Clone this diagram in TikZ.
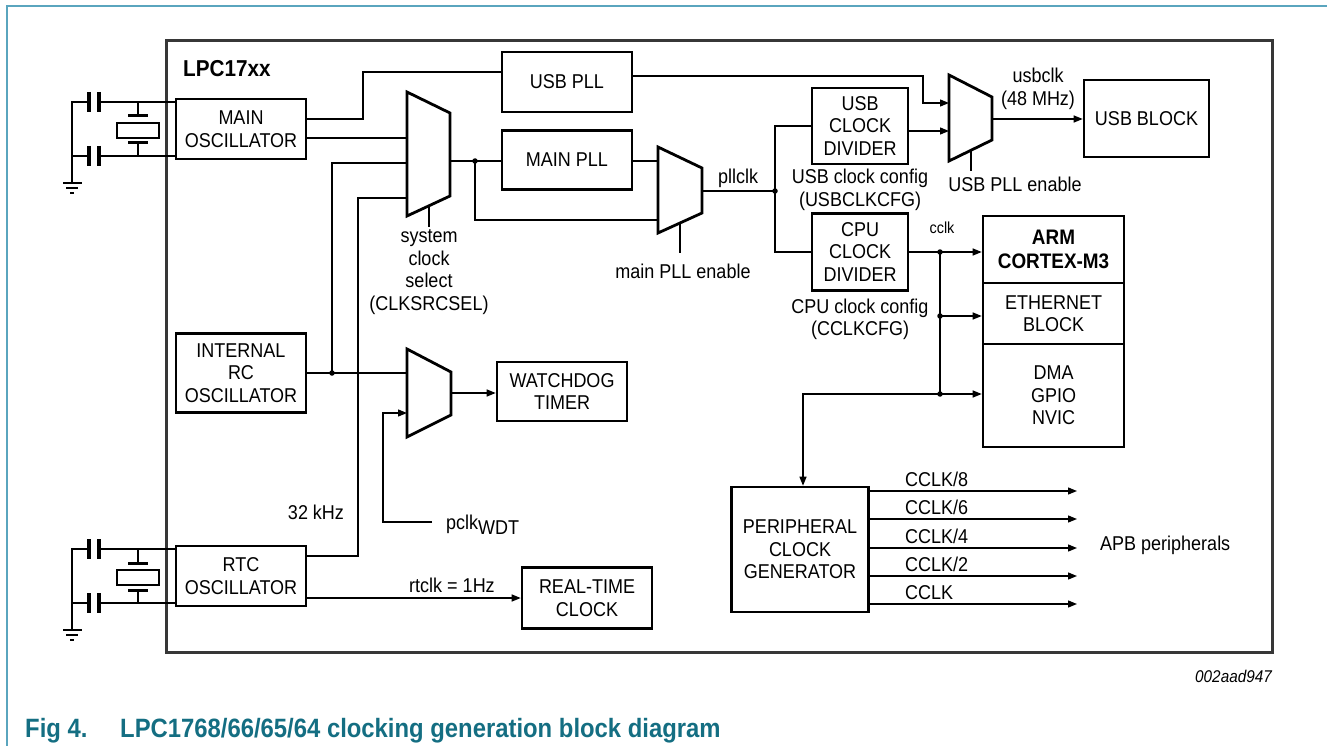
\documentclass[tikz,border=0pt]{standalone}
\usepackage{fontspec}
\setmainfont[FakeStretch=0.9]{Liberation Sans}
\usetikzlibrary{arrows.meta}

\definecolor{figteal}{RGB}{20,110,130}
\definecolor{frameteal}{RGB}{90,165,190}
\definecolor{chipgray}{RGB}{55,55,55}
\newcommand{\boxfont}{\fontsize{20}{22.5}\selectfont}
\newcommand{\smallfont}{\fontsize{16}{18}\selectfont}

\tikzset{
  blk/.style={draw, line width=2.6pt, align=center, inner sep=0pt, font=\boxfont},
  wire/.style={line width=1.3pt},
  arr/.style={wire, -{Triangle[length=9pt,width=7pt]}},
  muxshape/.style={line width=2.8pt, line join=miter},
  jdot/.style={circle, fill, inner sep=0pt, minimum size=5.5pt},
  lbl/.style={align=center, font=\boxfont, inner sep=0pt},
}

\begin{document}
\begin{tikzpicture}[x=1pt,y=-1pt]
\useasboundingbox (0,0) rectangle (1327,746);

% page frame and caption
\draw[frameteal, line width=1.2pt] (7,746) -- (7,6) -- (1327,6);
\node[anchor=base west, inner sep=0pt, text=figteal, font=\fontsize{26.5}{30}\selectfont\bfseries] (fignum) at (25,737) {Fig 4.};
\node[anchor=base west, inner sep=0pt, text=figteal, font=\fontsize{26.5}{30}\selectfont\bfseries] (figtitle) at (120,737) {LPC1768/66/65/64 clocking generation block diagram};
\node[anchor=base east, inner sep=0pt, font=\fontsize{17}{20}\selectfont\itshape] (figid) at (1272,682) {002aad947};

% chip outline
\draw[chipgray, line width=3pt] (166,41) rectangle (1272,652);
\node[anchor=base west, inner sep=0pt, font=\fontsize{23}{26}\selectfont\bfseries] (chipname) at (183,77) {LPC17xx};

% external crystals
\foreach \T in {102,549} {
  \begin{scope}[shift={(0,\T)}]
    \draw[wire] (176,0) -- (99,0) (89,0) -- (72,0) -- (72,81);
    \draw[wire] (176,54) -- (99,54) (89,54) -- (72,54);
    \draw[line width=3.5pt] (89,-10) -- (89,10) (99,-10) -- (99,10) (89,44) -- (89,64) (99,44) -- (99,64);
    \draw[wire] (138,0) -- (138,14) (138,41) -- (138,54);
    \draw[line width=3pt] (128,14) -- (148,14) (128,41) -- (148,41);
    \draw[line width=1.5pt, fill=white] (117,21) rectangle (159,36);
    \draw[wire] (63,81) -- (82,81) (66,86) -- (78,86) (70,91) -- (74,91);
  \end{scope}
}

% blocks
\node[blk, minimum width=130pt, minimum height=60pt] (mainosc) at (241,129) {MAIN\\OSCILLATOR};
\node[blk, minimum width=130pt, minimum height=79pt] (irc) at (241,373) {INTERNAL\\RC\\OSCILLATOR};
\node[blk, minimum width=130pt, minimum height=60pt] (rtcosc) at (241,576) {RTC\\OSCILLATOR};
\node[blk, minimum width=130pt, minimum height=60pt] (usbpll) at (567,82) {USB PLL};
\node[blk, minimum width=130pt, minimum height=59pt] (mainpll) at (567,160) {MAIN PLL};
\node[blk, minimum width=130pt, minimum height=59pt] (wdt) at (562,391.5) {WATCHDOG\\TIMER};
\node[blk, minimum width=130pt, minimum height=61pt] (rtc) at (587,598) {REAL-TIME\\CLOCK};
\node[blk, minimum width=96pt, minimum height=76pt] (usbdiv) at (860,126) {USB\\CLOCK\\DIVIDER};
\node[blk, minimum width=96pt, minimum height=77pt] (cpudiv) at (860,252) {CPU\\CLOCK\\DIVIDER};
\node[blk, minimum width=125pt, minimum height=77pt] (usbblk) at (1146.5,118.5) {USB BLOCK};
\node[blk, minimum width=141pt, minimum height=67pt, font=\fontsize{21}{24}\selectfont\bfseries] (arm) at (1053.5,249.5) {ARM\\CORTEX-M3};
\node[blk, minimum width=141pt, minimum height=61pt] (eth) at (1053.5,313.5) {ETHERNET\\BLOCK};
\node[blk, minimum width=141pt, minimum height=103pt] (dma) at (1053.5,395.5) {DMA\\GPIO\\NVIC};
\node[blk, minimum width=137pt, minimum height=125pt] (pcg) at (800,549.5) {PERIPHERAL\\CLOCK\\GENERATOR};

% multiplexers
\draw[muxshape] (407,92) -- (450,113) -- (450,196) -- (407,216) -- cycle;
\coordinate (selin1) at (407,138);
\coordinate (selin2) at (407,163);
\coordinate (selin3) at (407,198);
\coordinate (selout) at (450,161);
\coordinate (selctl) at (429,206);
\coordinate (selctlend) at (429,227);

\draw[muxshape] (407,349) -- (451,372) -- (451,415) -- (407,437) -- cycle;
\coordinate (wdtin1) at (407,373);
\coordinate (wdtin2) at (407,413);
\coordinate (wdtout) at (451,393);

\draw[muxshape] (658,147) -- (702,168) -- (702,213) -- (658,233) -- cycle;
\coordinate (pllin1) at (658,161);
\coordinate (pllin2) at (658,220);
\coordinate (pllout) at (702,191);
\coordinate (pllctl) at (680,223);
\coordinate (pllctlend) at (680,253);

\draw[muxshape] (949,75) -- (992,97) -- (992,140) -- (949,161) -- cycle;
\coordinate (usbin1) at (949,103);
\coordinate (usbin2) at (949,131);
\coordinate (usbout) at (992,119);
\coordinate (usbctl) at (971,150);
\coordinate (usbctlend) at (971,171);

% clock sources
\draw[wire] ([yshift=10pt]mainosc.east) -- (363,119) |- ([yshift=10pt]usbpll.west);
\draw[wire] ([yshift=-9pt]mainosc.east) -- (selin1);
\node[jdot] (ircdot) at (332,373) {};
\draw[wire] (irc.east) -- (wdtin1);
\draw[wire] (ircdot.center) |- (selin2);
\draw[wire] ([yshift=20pt]rtcosc.east) -- (358,556) |- (selin3);
\node[lbl] (khzlbl) at (316,512) {32 kHz};
\draw[arr] ([yshift=-22pt]rtcosc.east) -- (rtc.west);
\node[lbl] (rtclklbl) at (452,585) {rtclk = 1Hz};

% watchdog
\draw[arr] (wdtout) -- (wdtout -| wdt.west);
\coordinate (pclkend) at (432,522);
\draw[arr] (pclkend) -- (383,522) |- (wdtin2);
\node[anchor=base west, inner sep=0pt, font=\boxfont] (pclklbl) at (446,529) {pclk\raisebox{-5pt}{WDT}};

% main pll path
\node[jdot] (seldot) at (475,161) {};
\draw[wire] (selout) -- (mainpll.west |- selout);
\draw[wire] (seldot.center) |- (pllin2);
\draw[wire] (mainpll.east |- pllin1) -- (pllin1);
\draw[wire] (selctl) -- (selctlend);
\node[lbl] (sellbl) at (429,272) {system\\clock\\select\\(CLKSRCSEL)};
\draw[wire] (pllctl) -- (pllctlend);
\node[lbl] (plllbl) at (683,271) {main PLL enable};
\node[jdot] (plldot) at (775,191) {};
\draw[wire] (pllout) -- (plldot.center);
\node[lbl] (pllclklbl) at (738,178) {pllclk};
\draw[wire] (usbdiv.west) -| (plldot.center) |- (cpudiv.west);

% usb clock
\draw[arr] ([yshift=6pt]usbpll.east) -- (923,76) |- (usbin1);
\draw[arr] (usbdiv.east |- usbin2) -- (usbin2);
\draw[arr] (usbout) -- (usbout -| usbblk.west);
\draw[wire] (usbctl) -- (usbctlend);
\node[lbl] (usbenlbl) at (1015,184) {USB PLL enable};
\node[lbl] (usbclklbl) at (1038,89) {usbclk\\(48 MHz)};
\node[lbl] (usbcfglbl) at (860,190) {USB clock config\\(USBCLKCFG)};

% cpu clock
\node[lbl] (cpucfglbl) at (860,319.5) {CPU clock config\\(CCLKCFG)};
\node[jdot] (cclkdot) at (940,252) {};
\node[jdot] (ethdot) at (940,316) {};
\node[jdot] (dmadot) at (940,394) {};
\node[inner sep=0pt, font=\smallfont] (cclklbl) at (942,228) {cclk};
\draw[wire] (cpudiv.east) -- (cclkdot.center);
\draw[arr] (cclkdot.center) -- (cclkdot.center -| arm.west);
\draw[wire] (cclkdot.center) -- (dmadot.center);
\draw[arr] (ethdot.center) -- (ethdot.center -| eth.west);
\draw[arr] (dmadot.center) -- (dmadot.center -| dma.west);
\draw[arr] (dmadot.center) -| ([xshift=3pt]pcg.north);

% peripheral clocks
\foreach \k/\yy/\txt in {1/491/{CCLK/8}, 2/519/{CCLK/6}, 3/548/{CCLK/4}, 4/576/{CCLK/2}, 5/604/{CCLK}} {
  \coordinate (apb\k) at (1077,\yy);
  \draw[arr] (pcg.east |- apb\k) -- (apb\k);
  \node[anchor=base west, inner sep=0pt, font=\boxfont] (clk\k) at (905,\yy-5) {\txt};
}
\node[anchor=west, inner sep=0pt, font=\boxfont] (apblbl) at (1100,545) {APB peripherals};

\end{tikzpicture}
\end{document}
